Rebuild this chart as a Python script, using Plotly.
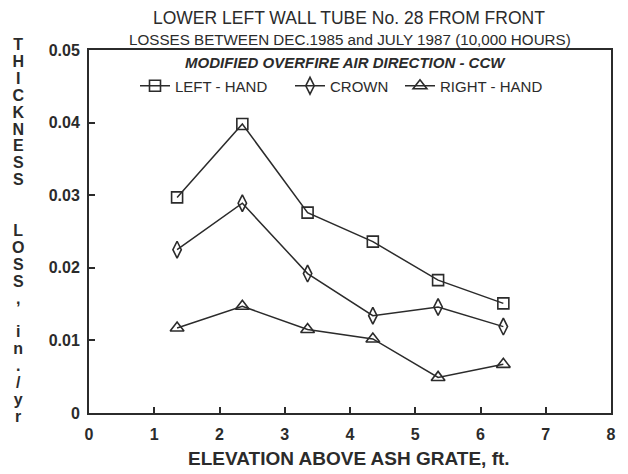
import plotly.graph_objects as go

elevation = [1.35, 2.35, 3.35, 4.35, 5.35, 6.35]
left_hand = [0.0297, 0.0398, 0.0276, 0.0236, 0.0183, 0.0151]
crown = [0.0225, 0.0289, 0.0192, 0.0134, 0.0146, 0.0119]
right_hand = [0.0117, 0.0147, 0.0115, 0.0102, 0.0049, 0.0067]

series_names = ["LEFT - HAND", "CROWN", "RIGHT - HAND"]
x_ticks = [0, 1, 2, 3, 4, 5, 6, 7, 8]
y_ticks = [0, 0.01, 0.02, 0.03, 0.04, 0.05]
y_tick_text = ["0", "0.01", "0.02", "0.03", "0.04", "0.05"]

title1 = "LOWER LEFT WALL TUBE No. 28 FROM FRONT"
title2 = "LOSSES BETWEEN DEC.1985 and JULY 1987 (10,000 HOURS)"
legend_header = "MODIFIED OVERFIRE AIR DIRECTION - CCW"
x_title = "ELEVATION ABOVE ASH GRATE, ft."
y_title_lines = ["T", "H", "I", "C", "K", "N", "E", "S", "S", "", "",
                 "L", "O", "S", "S", ",", "", "i", "n", ".", "/", "y", "r"]

INK = "#2b2b2b"
FONT = "Liberation Sans"
# The page body has an 8px default margin; design in page pixels and offset.
OFF = 8
W, H = 628 - OFF, 474 - OFF
PL, PR, PT, PB = 89, 611, 50, 413   # plot area in page pixels
L, T = PL - OFF, PT - OFF
R, B = W - (PR - OFF), H - (PB - OFF)


def px(xp):
    return (xp - PL) / (PR - PL)


def py(yp):
    return (PB - yp) / (PB - PT)


fig = go.Figure()
symbols = ["square-open", "diamond-tall-open", "triangle-up-open"]
sizes = [11, 12, 12]
legends = ["legend", "legend2", "legend3"]
for name, vals, sym, sz, lg in zip(series_names, [left_hand, crown, right_hand], symbols, sizes, legends):
    fig.add_trace(go.Scatter(
        x=elevation, y=vals, name=name, mode="lines+markers", legend=lg,
        line=dict(color=INK, width=1.5),
        marker=dict(symbol=sym, size=sz, color=INK, line=dict(color=INK, width=1.6)),
    ))

annotations = [
    dict(text=title1, x=px(349), y=py(18),
         font=dict(family=FONT, size=17.5, color=INK)),
    dict(text=title2, x=px(350), y=py(40),
         font=dict(family=FONT, size=15.2, color=INK)),
    dict(text="<b><i>" + legend_header + "</i></b>", x=px(345), y=py(62),
         font=dict(family=FONT, size=15, color=INK)),
    dict(text="<b>" + x_title + "</b>", x=px(349), y=py(458),
         font=dict(family=FONT, size=19, color=INK)),
]
for a in annotations:
    a.update(xref="paper", yref="paper", showarrow=False, xanchor="center", yanchor="middle")

y_title_text = "<br>".join(
    ("<span style='font-size:16px'><b>%s</b></span>" % c) if c else " " for c in y_title_lines)
annotations.append(dict(
    text=y_title_text, x=px(18), y=py(230), xref="paper", yref="paper",
    showarrow=False, xanchor="center", yanchor="middle", align="center",
    font=dict(family=FONT, size=13, color=INK)))

legend_common = dict(orientation="h", xanchor="left", yanchor="middle", y=py(86),
                     font=dict(size=15, family=FONT, color=INK),
                     bgcolor="rgba(0,0,0,0)", itemwidth=30)

fig.update_layout(
    width=W, height=H,
    margin=dict(l=L, r=R, t=T, b=B, autoexpand=False),
    paper_bgcolor="white", plot_bgcolor="white",
    font=dict(family=FONT, color=INK),
    showlegend=True,
    legend=dict(x=px(135), **legend_common),
    legend2=dict(x=px(290), **legend_common),
    legend3=dict(x=px(400), **legend_common),
    annotations=annotations,
    xaxis=dict(range=[0, 8], tickvals=x_ticks, ticktext=["<b>%d</b>" % v for v in x_ticks],
               showgrid=False, zeroline=False, automargin=False,
               showline=True, linecolor=INK, linewidth=2, mirror=True,
               ticks="inside", ticklen=6, tickwidth=1.5, tickcolor=INK,
               ticklabelstandoff=6,
               tickfont=dict(family=FONT, size=16, color=INK)),
    yaxis=dict(range=[0, 0.05], tickvals=y_ticks, ticktext=["<b>" + t + "</b>" for t in y_tick_text],
               showgrid=False, zeroline=False, automargin=False,
               showline=True, linecolor=INK, linewidth=2, mirror=True,
               ticks="inside", ticklen=6, tickwidth=1.5, tickcolor=INK,
               ticklabelstandoff=4,
               tickfont=dict(family=FONT, size=16, color=INK)),
)

fig.write_html("out.html")
